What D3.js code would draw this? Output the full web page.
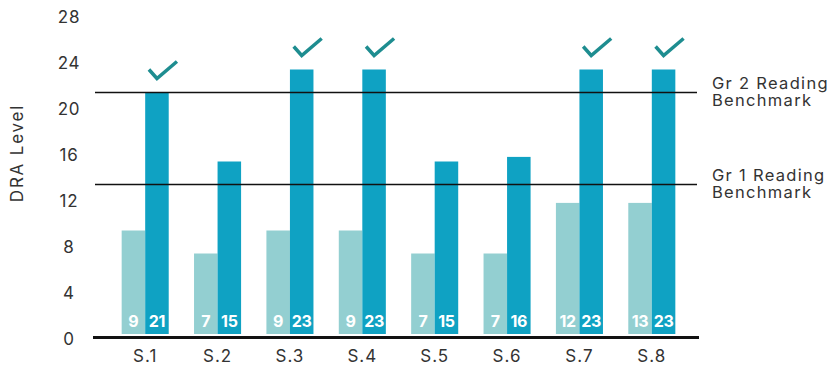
<!DOCTYPE html>
<html>
<head>
<meta charset="utf-8">
<script src="https://cdn.jsdelivr.net/npm/d3@7"></script>
<style>
  body { margin: 0; background: #fff; }
  text { font-family: Inter, "Open Sans", sans-serif; }
</style>
</head>
<body>
<div id="chart"></div>
<script>
// data
const students = ["S.1", "S.2", "S.3", "S.4", "S.5", "S.6", "S.7", "S.8"];
const preValues = [9, 7, 9, 9, 7, 7, 11.4, 11.4];
const postValues = [21, 15, 23, 23, 15, 15.4, 23, 23];
const preLabels = ["9", "7", "9", "9", "7", "7", "12", "13"];
const postLabels = ["21", "15", "23", "23", "15", "16", "23", "23"];
const benchmarkValues = [21, 13];
const benchmarkLines = [["Gr 2 Reading", "Benchmark"], ["Gr 1 Reading", "Benchmark"]];
const yTicks = [0, 4, 8, 12, 16, 20, 24, 28];

const width = 838, height = 368;
const textColor = "#333";

const svg = d3.select("#chart").append("svg")
  .attr("width", width)
  .attr("height", height);

const x = d3.scaleBand()
  .domain(students)
  .range([109, 688])
  .paddingInner(0.35)
  .paddingOuter(0.175);

const xSub = d3.scaleBand()
  .domain(["pre", "post"])
  .range([0, x.bandwidth()]);

const y = d3.scaleLinear()
  .domain([0, 28])
  .range([334, 12]);

// y tick labels
const yAxis = svg.append("g")
  .attr("transform", "translate(69,0)")
  .call(d3.axisLeft(y).tickValues(yTicks).tickSize(0).tickPadding(0));
yAxis.select(".domain").remove();
yAxis.selectAll("text")
  .attr("text-anchor", "middle")
  .attr("dy", "0.35em")
  .attr("y", 5)
  .attr("fill", textColor)
  .style("font-size", "17px")
  .style("letter-spacing", "0.8px");

// y title
svg.append("text")
  .attr("transform", "translate(23,153) rotate(-90)")
  .attr("text-anchor", "middle")
  .attr("fill", textColor)
  .style("font-size", "17px")
  .style("letter-spacing", "1.8px")
  .text("DRA Level");

// bars
const groups = svg.append("g")
  .selectAll("g")
  .data(students)
  .join("g")
  .attr("transform", d => `translate(${x(d)},0)`);

groups.append("rect")
  .attr("x", xSub("pre"))
  .attr("width", xSub.bandwidth())
  .attr("y", (d, i) => y(preValues[i]))
  .attr("height", (d, i) => y(0) - y(preValues[i]))
  .attr("fill", "#93cfd1");

groups.append("rect")
  .attr("x", xSub("post"))
  .attr("width", xSub.bandwidth())
  .attr("y", (d, i) => y(postValues[i]))
  .attr("height", (d, i) => y(0) - y(postValues[i]))
  .attr("fill", "#0fa2c3");

// value labels inside bars
groups.append("text")
  .attr("x", xSub("pre") + xSub.bandwidth() / 2)
  .attr("y", y(0) - 7)
  .attr("text-anchor", "middle")
  .attr("fill", "#fff")
  .style("font-size", "16px")
  .style("font-weight", "700")
  .style("letter-spacing", "-0.3px")
  .text((d, i) => preLabels[i]);

groups.append("text")
  .attr("x", xSub("post") + xSub.bandwidth() / 2)
  .attr("y", y(0) - 7)
  .attr("text-anchor", "middle")
  .attr("fill", "#fff")
  .style("font-size", "16px")
  .style("font-weight", "700")
  .style("letter-spacing", "-0.3px")
  .text((d, i) => postLabels[i]);

// check marks above bars that reach the grade 2 benchmark
groups.filter((d, i) => postValues[i] >= benchmarkValues[0])
  .append("path")
  .attr("transform", d => {
    const v = postValues[students.indexOf(d)];
    return `translate(${xSub("post") + xSub.bandwidth() / 2 + 6},${y(v) - 21})`;
  })
  .attr("d", "M-14,-2 L-6,7 L14,-10")
  .attr("fill", "none")
  .attr("stroke", "#1e8d90")
  .attr("stroke-width", 3.5);

// benchmark lines
benchmarkValues.forEach((v, i) => {
  svg.append("line")
    .attr("x1", 95).attr("x2", 697)
    .attr("y1", y(v)).attr("y2", y(v))
    .attr("stroke", "#111")
    .attr("stroke-width", 1.6);
  benchmarkLines[i].forEach((line, j) => {
    svg.append("text")
      .attr("x", 712)
      .attr("y", y(v) - 4 + j * 17)
      .attr("fill", textColor)
      .style("font-size", "16.5px")
      .style("letter-spacing", "1.3px")
      .text(line);
  });
});

// x axis baseline and labels
svg.append("line")
  .attr("x1", 93).attr("x2", 699)
  .attr("y1", y(0) + 3.5).attr("y2", y(0) + 3.5)
  .attr("stroke", "#111")
  .attr("stroke-width", 3);

svg.append("g")
  .selectAll("text")
  .data(students)
  .join("text")
  .attr("x", d => x(d) + x.bandwidth() / 2)
  .attr("y", 362)
  .attr("text-anchor", "middle")
  .attr("fill", textColor)
  .style("font-size", "17px")
  .style("letter-spacing", "1px")
  .text(d => d);
</script>
</body>
</html>
